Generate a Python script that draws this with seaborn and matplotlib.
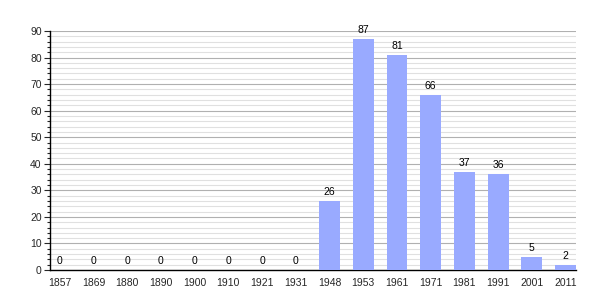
import matplotlib
matplotlib.use("Agg")
import matplotlib.pyplot as plt
import seaborn as sns
import pandas as pd
import numpy as np
from matplotlib.ticker import MultipleLocator

years = ["1857", "1869", "1880", "1890", "1900", "1910", "1921", "1931",
         "1948", "1953", "1961", "1971", "1981", "1991", "2001", "2011"]
population = [0, 0, 0, 0, 0, 0, 0, 0, 26, 87, 81, 66, 37, 36, 5, 2]

df = pd.DataFrame({"year": years, "pop": population})

sns.set_style("white")
plt.rcParams['font.family'] = ['Liberation Sans', 'DejaVu Sans']

fig = plt.figure(figsize=(6.05, 3.0), dpi=100)
ax = fig.add_axes([50/605, 30/300, 526/605, 239/300])

sns.barplot(data=df, x="year", y="pop", color="#99aaff", saturation=1,
            width=0.62, linewidth=0, edgecolor="none", ax=ax, zorder=3)

ax.set_ylim(0, 90)
ax.set_xlim(-0.29, 15.31)
ax.yaxis.set_major_locator(MultipleLocator(10))
ax.yaxis.set_minor_locator(MultipleLocator(2))
ax.grid(which="major", axis="y", color="#b0b0b0", linewidth=0.8, zorder=0)
ax.grid(which="minor", axis="y", color="#e0e0e0", linewidth=0.8, zorder=0)
ax.set_axisbelow(True)

for s in ["top", "right"]:
    ax.spines[s].set_visible(False)
ax.spines["left"].set_color("black")
ax.spines["bottom"].set_color("black")
ax.spines["left"].set_linewidth(1)
ax.spines["bottom"].set_linewidth(1)

ax.tick_params(axis="y", which="major", left=True, length=4, width=0.8, labelsize=7.5, pad=2)
ax.tick_params(axis="y", which="minor", left=True, length=2.5, width=0.8)
ax.tick_params(axis="x", bottom=False, labelsize=7.5, pad=2)
ax.set_xlabel("")
ax.set_ylabel("")

for i, v in enumerate(population):
    ax.text(i, v + 1.5, str(v), ha="center", va="bottom", fontsize=7.5, color="black")

fig.savefig("out.png", dpi=100, facecolor="white")
